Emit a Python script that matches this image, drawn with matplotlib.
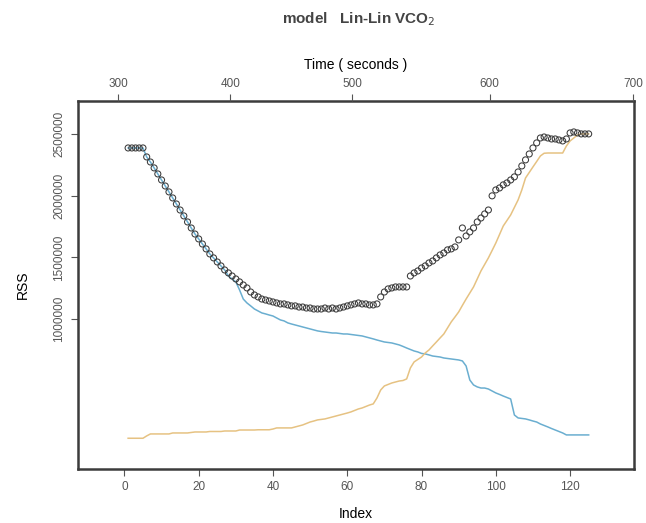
import numpy as np
import matplotlib.pyplot as plt

plt.rcParams['font.family'] = ['Liberation Sans', 'DejaVu Sans']

# RSS for each split index (open circles)
rss = [2389000, 2389000, 2389000, 2389000, 2389000, 2316000, 2275000, 2227000, 2178000, 2129000,
       2080000, 2032000, 1983000, 1934000, 1885000, 1837000, 1788000, 1739000, 1690000, 1650000,
       1609000, 1569000, 1528000, 1496000, 1463000, 1431000, 1398000, 1374000, 1349000, 1325000,
       1301000, 1276000, 1252000, 1219000, 1195000, 1179000, 1162000, 1154000, 1146000, 1138000,
       1130000, 1122000, 1122000, 1114000, 1106000, 1106000, 1097000, 1097000, 1089000, 1089000,
       1081000, 1081000, 1081000, 1089000, 1081000, 1089000, 1081000, 1089000, 1097000, 1106000,
       1114000, 1122000, 1130000, 1122000, 1122000, 1114000, 1114000, 1122000, 1179000, 1219000,
       1244000, 1252000, 1260000, 1260000, 1260000, 1260000, 1349000, 1374000, 1390000, 1414000,
       1431000, 1455000, 1471000, 1496000, 1520000, 1536000, 1561000, 1569000, 1585000, 1642000,
       1739000, 1674000, 1707000, 1739000, 1788000, 1820000, 1853000, 1885000, 2000000, 2048000,
       2064000, 2089000, 2105000, 2129000, 2154000, 2194000, 2243000, 2292000, 2340000, 2389000,
       2430000, 2470000, 2478000, 2470000, 2462000, 2462000, 2454000, 2446000, 2462000, 2511000,
       2519000, 2511000, 2503000, 2503000, 2503000]

# first segment RSS (blue line)
rss_lower = [2389000, 2389000, 2389000, 2389000, 2389000, 2316000, 2275000, 2227000, 2178000, 2129000,
             2080000, 2032000, 1983000, 1934000, 1885000, 1837000, 1788000, 1739000, 1690000, 1650000,
             1609000, 1569000, 1528000, 1496000, 1463000, 1431000, 1398000, 1349000, 1325000, 1301000,
             1236000, 1162000, 1130000, 1106000, 1081000, 1065000, 1049000, 1041000, 1032000, 1024000,
             1008000, 992000, 984000, 968000, 959000, 951000, 943000, 935000, 927000, 919000,
             911000, 903000, 898000, 894000, 890000, 886000, 886000, 882000, 878000, 878000,
             874000, 870000, 866000, 862000, 854000, 846000, 838000, 829000, 821000, 813000,
             809000, 805000, 797000, 789000, 777000, 764000, 752000, 740000, 732000, 720000,
             716000, 708000, 699000, 695000, 691000, 683000, 679000, 675000, 671000, 667000,
             659000, 618000, 504000, 464000, 448000, 439000, 439000, 431000, 415000, 399000,
             387000, 374000, 362000, 350000, 220000, 196000, 192000, 188000, 180000, 171000,
             163000, 147000, 135000, 123000, 110000, 98000, 86000, 74000, 58000, 58000,
             58000, 58000, 58000, 58000, 58000]

# second segment RSS (orange line)
rss_upper = [31000, 31000, 31000, 31000, 31000, 50000, 66000, 66000, 66000, 66000,
             66000, 66000, 74000, 74000, 74000, 74000, 74000, 78000, 82000, 82000,
             82000, 82000, 86000, 86000, 86000, 86000, 90000, 90000, 90000, 90000,
             98000, 98000, 98000, 98000, 98000, 100000, 100000, 100000, 100000, 106000,
             115000, 115000, 115000, 115000, 115000, 123000, 131000, 139000, 151000, 163000,
             171000, 180000, 184000, 188000, 196000, 204000, 212000, 220000, 228000, 236000,
             245000, 257000, 269000, 277000, 289000, 301000, 310000, 358000, 423000, 456000,
             468000, 480000, 488000, 496000, 500000, 513000, 602000, 651000, 671000, 691000,
             724000, 748000, 781000, 813000, 846000, 878000, 927000, 976000, 1016000, 1057000,
             1110000, 1162000, 1211000, 1260000, 1325000, 1390000, 1443000, 1496000, 1556000, 1617000,
             1686000, 1755000, 1800000, 1845000, 1906000, 1967000, 2048000, 2145000, 2190000, 2235000,
             2279000, 2324000, 2346000, 2348000, 2348000, 2348000, 2348000, 2348000, 2405000, 2446000,
             2470000, 2495000, 2503000, 2503000, 2503000]

idx = np.arange(1, len(rss) + 1)

# time axis on top: tick labels and where they fall on the index scale
time_ticks = [300, 400, 500, 600, 700]
time_tick_index = [-1.7, 28.5, 61.4, 98.3, 137.0]

fig = plt.figure(figsize=(6.46, 5.23), dpi=100)
ax = fig.add_axes([0.1207, 0.1033, 0.8607, 0.7042])

ax.plot(idx, rss_lower, color='#6aaed0', lw=1.1)
ax.plot(idx, rss_upper, color='#e6c282', lw=1.1)
ax.scatter(idx, rss, s=19, facecolors='none', edgecolors='#3a3a3a', linewidths=0.75, zorder=3)

ax.set_xlim(-12.5, 137.2)
ax.set_ylim(-218500, 2773000)

ax.set_xticks([0, 20, 40, 60, 80, 100, 120])
ax.set_yticks([1000000, 1500000, 2000000, 2500000])
ax.set_yticklabels(['1000000', '1500000', '2000000', '2500000'], rotation=90, va='center')
ax.tick_params(direction='out', length=5, width=0.8, colors='#555555', labelsize=8.5, pad=4)
ax.set_xlabel('Index', fontsize=10, labelpad=10)
ax.set_ylabel('RSS', fontsize=10, labelpad=17)

for s in ax.spines.values():
    s.set_linewidth(1.8)
    s.set_color('#3c3c3c')

top = ax.twiny()
top.set_xlim(ax.get_xlim())
top.set_xticks(time_tick_index)
top.set_xticklabels([str(t) for t in time_ticks])
top.tick_params(direction='out', length=5, width=0.8, colors='#555555', labelsize=8.5, pad=3)
top.set_xlabel('Time ( seconds )', fontsize=10, labelpad=6)
for s in top.spines.values():
    s.set_visible(False)

fig.text(0.555, 0.963, 'model   Lin-Lin VCO$_2$', ha='center', va='center',
         fontsize=11, fontweight='bold', color='#444444')

fig.savefig('out.png', dpi=100)
